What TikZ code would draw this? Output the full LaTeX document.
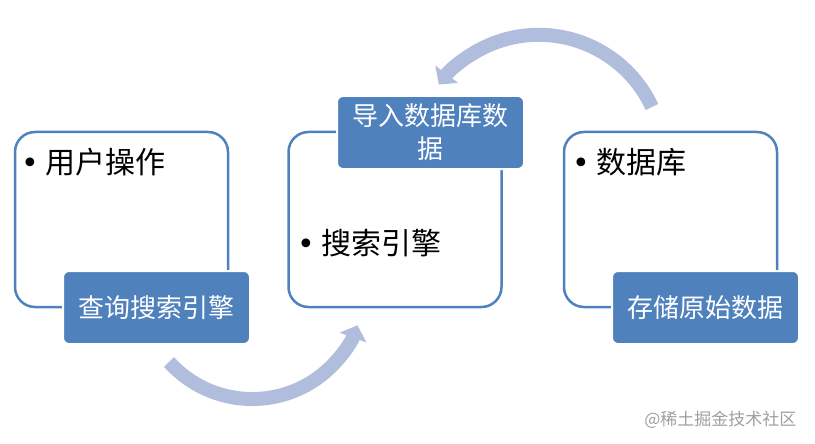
\documentclass[tikz,border=0pt]{standalone}
\usepackage{fontspec}
\setmainfont{Noto Sans CJK SC}
\newfontfamily\symfont{DejaVu Sans}
\usepackage{tikz}
\usetikzlibrary{arrows.meta,
                positioning}
\definecolor{frameblue}{RGB}{79,129,189}
\definecolor{tagblue}{RGB}{79,129,189}
\definecolor{arcblue}{RGB}{176,189,220}
\newcommand{\bul}{{\symfont •}\hspace{7pt}}
\tikzset{
  frame/.style={draw=frameblue, line width=2.5pt, rounded corners=20pt,
                minimum width=213pt, minimum height=175pt},
  tag/.style={fill=tagblue, draw=white, line width=2pt, rounded corners=6pt,
              text=white, minimum width=187pt, minimum height=73pt,
              align=center, font=\fontsize{26}{33}\selectfont},
  item/.style={anchor=west, inner sep=0pt, font=\fontsize{30}{36}\selectfont},
  flow/.style={arcblue, line width=14pt, -{Triangle[length=13pt, width=28pt]}}
}

\begin{document}
\begin{tikzpicture}[x=1pt, y=-1pt]
\useasboundingbox (0,0) rectangle (815,444);
% frames
\foreach \x/\n in {121.5/user, 395/search, 670.5/db}
  \node[frame] (\n) at (\x,219.5) {};

% tags on the frames
\node[tag] (query) at (156.5,307.5) {查询搜索引擎};
\node[tag] (import) at (430.5,132.5) {导入数据库数\\据};
\node[tag] (store) at (705.5,307.5) {存储原始数据};

% bullet items
\node[item] (userop) at (21,162) {\bul 用户操作};
\node[item] (engine) at (297,243) {\bul 搜索引擎};
\node[item] (dbitem) at (572,162) {\bul 数据库};

% curved arrows
\coordinate (qstart) at (169,362);
\coordinate (dstart) at (652,107);
\draw[flow] (qstart) arc[start angle=138, end angle=20, radius=112];
\draw[flow] (dstart) arc[start angle=-25, end angle=-143, radius=125];

\node[anchor=east, text=gray!75, font=\fontsize{17}{20}\selectfont] (mark) at (800,420) {@稀土掘金技术社区};
\end{tikzpicture}
\end{document}
